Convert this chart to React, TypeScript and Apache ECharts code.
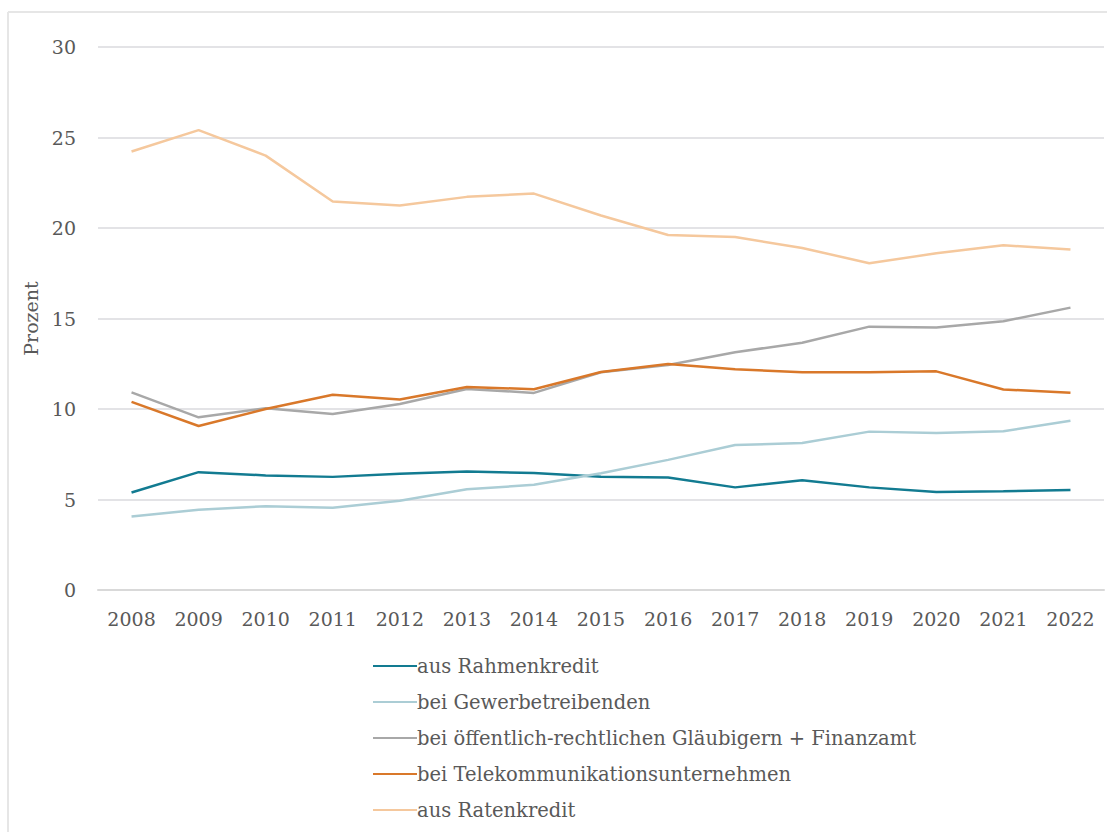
import React, { useEffect, useRef } from "react";
import * as echarts from "echarts";

const years = ["2008","2009","2010","2011","2012","2013","2014","2015","2016","2017","2018","2019","2020","2021","2022"];
const rahmenkredit = [5.39, 6.51, 6.33, 6.25, 6.42, 6.55, 6.46, 6.26, 6.21, 5.67, 6.06, 5.67, 5.41, 5.45, 5.52];
const gewerbe = [4.06, 4.43, 4.63, 4.54, 4.93, 5.57, 5.81, 6.45, 7.19, 8.01, 8.12, 8.75, 8.68, 8.77, 9.35];
const oeffentlich = [10.92, 9.54, 10.04, 9.72, 10.28, 11.11, 10.89, 12.03, 12.43, 13.14, 13.66, 14.55, 14.5, 14.85, 15.6];
const telekom = [10.39, 9.06, 10.0, 10.79, 10.53, 11.22, 11.09, 12.04, 12.49, 12.2, 12.03, 12.03, 12.08, 11.08, 10.9];
const ratenkredit = [24.23, 25.41, 24.0, 21.46, 21.24, 21.72, 21.9, 20.69, 19.61, 19.5, 18.9, 18.05, 18.6, 19.05, 18.81];

const names = [
  "aus Rahmenkredit",
  "bei Gewerbetreibenden",
  "bei öffentlich-rechtlichen Gläubigern + Finanzamt",
  "bei Telekommunikationsunternehmen",
  "aus Ratenkredit",
];
const colors = ["#127b91", "#abcdd5", "#a8a8a8", "#d9782a", "#f5c89d"];
const seriesData = [rahmenkredit, gewerbe, oeffentlich, telekom, ratenkredit];

const FONT = "DejaVu Serif";
const TXT = "#595959";

export default function App() {
  const ref = useRef<HTMLDivElement>(null);
  useEffect(() => {
    if (!ref.current) return;
    const chart = echarts.init(ref.current, undefined, { renderer: "svg" });
    chart.setOption({
      animation: false,
      backgroundColor: "#ffffff",
      textStyle: { fontFamily: FONT },
      grid: { left: 98, right: 3, top: 47, bottom: 242, containLabel: false },
      legend: {
        orient: "vertical",
        left: 368,
        top: 651,
        itemWidth: 44,
        itemHeight: 20,
        itemGap: 16,
        icon: "path://M0,9 L44,9 L44,11 L0,11 Z",
        textStyle: { fontFamily: FONT, fontSize: 19.5, color: TXT, padding: [0, 0, 0, -5] },
        data: names,
      },
      xAxis: {
        type: "category",
        data: years,
        boundaryGap: true,
        axisLine: { lineStyle: { color: "#d9d9d9", width: 2 } },
        axisTick: { alignWithLabel: true, length: 6, lineStyle: { color: "#d9d9d9" } },
        axisLabel: { fontFamily: FONT, fontSize: 19, color: TXT, margin: 19 },
      },
      yAxis: {
        type: "value",
        min: 0,
        max: 30,
        interval: 5,
        name: "Prozent",
        nameLocation: "middle",
        nameGap: 57,
        nameTextStyle: { fontFamily: FONT, fontSize: 19, color: TXT },
        axisLine: { show: false },
        axisTick: { show: false },
        axisLabel: { fontFamily: FONT, fontSize: 19, color: TXT, margin: 22 },
        splitLine: { lineStyle: { color: "#e3e3e6", width: 2 } },
      },
      graphic: [
        { type: "line", shape: { x1: 8, y1: 12, x2: 1107, y2: 12 }, style: { stroke: "#e6e6e6", lineWidth: 2 } },
        { type: "line", shape: { x1: 8, y1: 12, x2: 8, y2: 832 }, style: { stroke: "#e6e6e6", lineWidth: 2 } },
      ],
      series: names.map((n, i) => ({
        name: n,
        type: "line",
        data: seriesData[i],
        symbol: "none",
        color: colors[i],
        lineStyle: { width: 2.5, color: colors[i] },
      })),
    });
    return () => chart.dispose();
  }, []);
  return (
    <div
      ref={ref}
      style={{ position: "absolute", left: 0, top: 0, width: 1107, height: 832 }}
    />
  );
}
